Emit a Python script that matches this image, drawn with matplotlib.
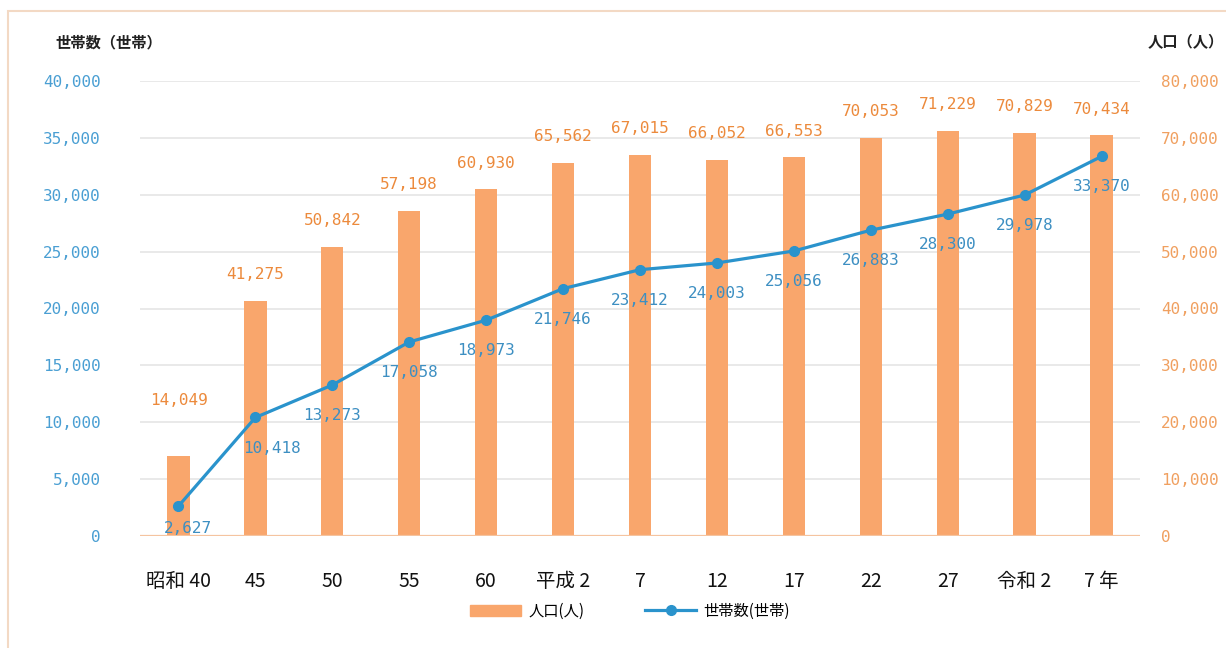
import matplotlib
matplotlib.use("Agg")
import matplotlib.pyplot as plt
from matplotlib.patches import Rectangle
from matplotlib.lines import Line2D
from matplotlib.ticker import FuncFormatter, MultipleLocator

plt.rcParams['font.family'] = ['Noto Sans CJK JP', 'DejaVu Sans']

categories = ["昭和 40", "45", "50", "55", "60", "平成 2", "7", "12", "17", "22", "27", "令和 2", "7 年"]
population = [14049, 41275, 50842, 57198, 60930, 65562, 67015, 66052, 66553, 70053, 71229, 70829, 70434]
households = [2627, 10418, 13273, 17058, 18973, 21746, 23412, 24003, 25056, 26883, 28300, 29978, 33370]

BAR = "#F9A66C"
BLUE = "#2A93CC"
BLUE_TXT = "#3D8FC2"
ORANGE_TXT = "#EC8A3C"
NUMFONT = "DejaVu Sans Mono"

fig = plt.figure(figsize=(12.26, 6.48), dpi=100)
fig.patches.append(Rectangle((8/1226, -0.1), 1.2, 1 - 11/648 + 0.1, transform=fig.transFigure,
                             fill=False, edgecolor="#F3D9C4", linewidth=1.5, zorder=0))

ax = fig.add_axes([140/1226, 1 - 536/648, 1000/1226, 455/648])
ax2 = ax.twinx()

x = list(range(len(categories)))

# bars on the right axis (population)
ax2.bar(x, population, width=0.29, color=BAR, zorder=2)
ax2.set_ylim(0, 80000)
ax.set_ylim(0, 40000)
ax.set_xlim(-0.5, len(categories) - 0.5)

ax.yaxis.set_major_locator(MultipleLocator(5000))
ax2.yaxis.set_major_locator(MultipleLocator(10000))
ax2.grid(axis='y', color="#E3E3E3", linewidth=1.1, zorder=0)
ax2.set_axisbelow(True)

ax.set_zorder(ax2.get_zorder() + 1)
ax.patch.set_visible(False)

ax.plot(x, households, color=BLUE, linewidth=2.3, marker='o', markersize=7, zorder=5)

for a in (ax, ax2):
    for s in a.spines.values():
        s.set_visible(False)
ax2.axhline(0, color="#F5C4A0", linewidth=1.6, zorder=3)

fmt = FuncFormatter(lambda v, p: f"{int(v):,}")
ax.yaxis.set_major_formatter(fmt)
ax2.yaxis.set_major_formatter(fmt)
ax.tick_params(axis='y', length=0, pad=28, labelsize=11.5, labelcolor="#4A9FD3")
ax2.tick_params(axis='y', length=0, pad=15, labelsize=11.5, labelcolor="#F0A060")
for lab in ax.get_yticklabels() + ax2.get_yticklabels():
    lab.set_fontfamily(NUMFONT)

ax.set_xticks(x)
ax.set_xticklabels(categories, fontsize=14, color="#111111")
ax.tick_params(axis='x', length=0, pad=25)

for i, v in enumerate(population):
    off = 40 if i == 0 else 19
    ax2.annotate(f"{v:,}", (i, v), xytext=(0, off), textcoords='offset points',
                 ha='center', va='center', fontsize=11.5, color=ORANGE_TXT, family=NUMFONT, zorder=6)
for i, v in enumerate(households):
    dx = 7 if i == 0 else (12 if i == 1 else 0)
    dy = -16 if i == 0 else -22
    ax.annotate(f"{v:,}", (i, v), xytext=(dx, dy), textcoords='offset points',
                ha='center', va='center', fontsize=11.5, color=BLUE_TXT, family=NUMFONT, zorder=6)

fig.text(55/1226, 1 - 42/648, "世帯数（世帯）", fontsize=11, fontweight='bold', ha='left', va='center', color="#222222")
fig.text(1148/1226, 1 - 42/648, "人口（人）", fontsize=11, fontweight='bold', ha='left', va='center', color="#222222")

handles = [Rectangle((0, 0), 1, 1, color=BAR),
           Line2D([0], [0], color=BLUE, linewidth=2.3, marker='o', markersize=7)]
fig.legend(handles, ["人口(人)", "世帯数(世帯)"], loc='center', bbox_to_anchor=(630/1226, 1 - 611/648),
           ncol=2, frameon=False, fontsize=11, handlelength=3.3, columnspacing=4, handletextpad=0.5)

fig.savefig("out.png", dpi=100)
